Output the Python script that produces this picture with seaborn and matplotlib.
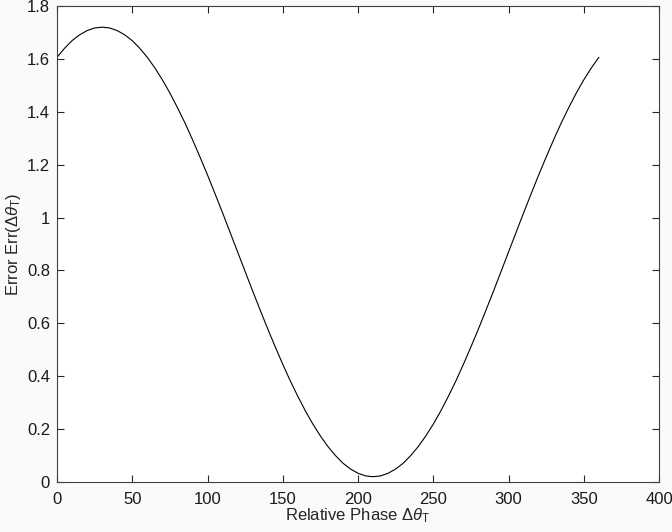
import numpy as np
import pandas as pd
import seaborn as sns
from matplotlib import pyplot as plt
from matplotlib.ticker import FormatStrFormatter

# relative phase (degrees) and error
phase = list(range(0, 361, 5))
error = [1.606, 1.640, 1.669, 1.691, 1.707, 1.717, 1.720, 1.717, 1.707, 1.691,
         1.669, 1.640, 1.606, 1.566, 1.521, 1.471, 1.416, 1.358, 1.295, 1.229,
         1.161, 1.090, 1.018, 0.944, 0.870, 0.796, 0.722, 0.650, 0.579, 0.511,
         0.445, 0.382, 0.324, 0.269, 0.219, 0.174, 0.134, 0.100, 0.071, 0.049,
         0.033, 0.023, 0.020, 0.023, 0.033, 0.049, 0.071, 0.100, 0.134, 0.174,
         0.219, 0.269, 0.324, 0.382, 0.445, 0.511, 0.579, 0.650, 0.722, 0.796,
         0.870, 0.944, 1.018, 1.090, 1.161, 1.229, 1.295, 1.358, 1.416, 1.471,
         1.521, 1.566, 1.606]
x_ticks = [0, 50, 100, 150, 200, 250, 300, 350, 400]
y_ticks = [0, 0.2, 0.4, 0.6, 0.8, 1.0, 1.2, 1.4, 1.6, 1.8]

df = pd.DataFrame({"phase": phase, "error": error})

sns.set_style("ticks")
plt.rcParams['font.family'] = ['Liberation Sans', 'DejaVu Sans']
plt.rcParams['mathtext.fontset'] = 'custom'
plt.rcParams['mathtext.rm'] = 'Liberation Sans'
plt.rcParams['mathtext.it'] = 'Liberation Sans:italic'

fig = plt.figure(figsize=(6.72, 5.32), dpi=100, facecolor='#fafafa')
ax = fig.add_axes([0.0848, 0.094, 0.896, 0.8947])
ax.set_facecolor('white')

sns.lineplot(x="phase", y="error", data=df, color='black', linewidth=0.8, ax=ax)

ax.set_xlim(0, 400)
ax.set_ylim(0, 1.8)
ax.set_xticks(x_ticks)
ax.set_yticks(y_ticks)
ax.yaxis.set_major_formatter(FormatStrFormatter('%g'))
# MATLAB-like inward ticks on all four sides
ax.tick_params(which='major', direction='in', length=5, width=0.8,
               color='#262626', labelcolor='#1a1a1a', labelsize=12,
               top=True, right=True, bottom=True, left=True)
ax.tick_params(axis='x', pad=7)
ax.tick_params(axis='y', pad=5)
ax.tick_params(labeltop=False, labelright=False)
for side in ax.spines.values():
    side.set_color('#404040')
    side.set_linewidth(0.8)

ax.set_xlabel(r'Relative Phase $\Delta\theta_\mathrm{T}$', fontsize=12, labelpad=0)
ax.set_ylabel(r'Error Err($\Delta\theta_\mathrm{T}$)', fontsize=12, labelpad=3)

fig.savefig("out.png", dpi=100, facecolor=fig.get_facecolor())
